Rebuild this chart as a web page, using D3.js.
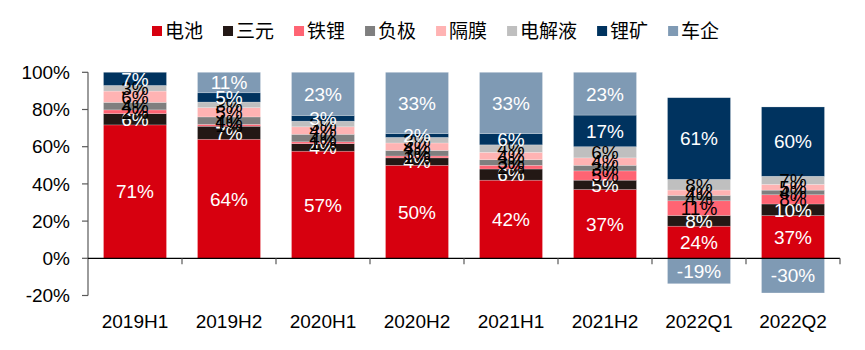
<!DOCTYPE html>
<html>
<head>
<meta charset="utf-8">
<script src="https://cdn.jsdelivr.net/npm/d3@7"></script>
<style>
  html, body { margin: 0; padding: 0; background: #fff; }
  svg { display: block; font-family: "Liberation Sans", Arial, "Noto Sans CJK SC", sans-serif; }
</style>
</head>
<body>
<svg id="chart" width="865" height="350"></svg>
<script>
// ---- data ----
const categories = ["2019H1","2019H2","2020H1","2020H2","2021H1","2021H2","2022Q1","2022Q2"];
const seriesNames = ["电池","三元","铁锂","负极","隔膜","电解液","锂矿","车企"];
const battery     = [71, 64, 57, 50, 42, 37, 24, 37];
const ternary     = [ 6,  7,  4,  4,  6,  5,  8, 10];
const lfp         = [ 2,  1,  1,  1,  2,  5, 11,  8];
const anode       = [ 4,  4,  4,  3,  3,  3,  4,  4];
const separator   = [ 6,  5,  4,  4,  4,  4,  4,  5];
const electrolyte = [ 3,  3,  3,  3,  4,  6,  8,  7];
const lithiumMine = [ 7,  5,  3,  2,  6, 17, 61, 60];
const automaker   = [ 0, 11, 23, 33, 33, 23,-19,-30];
const yTickLabels = ["-20%","0%","20%","40%","60%","80%","100%"];

const seriesValues = [battery, ternary, lfp, anode, separator, electrolyte, lithiumMine, automaker];
const colors = ["#D7000F","#231815","#FF6473","#7F7F7F","#FFB3B3","#BFBFBF","#00335F","#7F9AB4"];
const labelColors = ["#fff","#fff","#000","#000","#000","#000","#fff","#fff"];

// ---- layout ----
const svg = d3.select("#chart");
const left = 88, right = 840, yTop = 72.3, yBottom = 295.5;

const x = d3.scaleBand().domain(categories).range([left, right])
  .paddingInner(0.33).paddingOuter(0.165);
const y = d3.scaleLinear().domain([-0.2, 1.0]).range([yBottom, yTop]);

// table normalized by sum of absolute shares per period
const table = categories.map((c, i) => {
  const row = { cat: c };
  const tot = d3.sum(seriesValues, s => Math.abs(s[i]));
  seriesNames.forEach((n, k) => { row[n] = seriesValues[k][i] / tot; row["_" + n] = seriesValues[k][i]; });
  return row;
});

const stack = d3.stack().keys(seriesNames).offset(d3.stackOffsetDiverging);
const layers = stack(table);

// bars
const g = svg.append("g");
layers.forEach((layer, k) => {
  g.selectAll(null).data(layer).enter().append("rect")
    .attr("x", d => x(d.data.cat))
    .attr("width", x.bandwidth())
    .attr("y", d => y(Math.max(d[0], d[1])))
    .attr("height", d => Math.abs(y(d[0]) - y(d[1])))
    .attr("fill", colors[k])
    .attr("stroke", "rgba(255,255,255,0.35)")
    .attr("stroke-width", 0.6);
});

// axes
const axisColor = "#595959";
// y axis
svg.append("line").attr("x1", left).attr("x2", left).attr("y1", y(1.0)).attr("y2", y(-0.2))
  .attr("stroke", axisColor).attr("stroke-width", 1.2);
const yTicks = [-0.2, 0, 0.2, 0.4, 0.6, 0.8, 1.0];
yTicks.forEach((t, i) => {
  svg.append("line").attr("x1", left - 6).attr("x2", left).attr("y1", y(t)).attr("y2", y(t))
    .attr("stroke", axisColor).attr("stroke-width", 1.2);
  svg.append("text").attr("x", left - 18).attr("y", y(t)).attr("dy", "0.35em")
    .attr("text-anchor", "end").attr("font-size", 19).attr("fill", "#000")
    .text(yTickLabels[i]);
});
// x axis at zero
svg.append("line").attr("x1", left).attr("x2", right).attr("y1", y(0)).attr("y2", y(0))
  .attr("stroke", "#000").attr("stroke-width", 1.2);
categories.forEach(c => {
  const bx = x(c) + x.bandwidth() / 2 + x.step() / 2;
  svg.append("line").attr("x1", bx).attr("x2", bx).attr("y1", y(0)).attr("y2", y(0) + 6)
    .attr("stroke", axisColor).attr("stroke-width", 1.2);
  svg.append("text").attr("x", x(c) + x.bandwidth() / 2).attr("y", 321).attr("dy", "0.35em")
    .attr("text-anchor", "middle").attr("font-size", 19).attr("fill", "#000")
    .text(c);
});

// data labels
layers.forEach((layer, k) => {
  layer.forEach(d => {
    const v = d.data["_" + seriesNames[k]];
    if (v === 0) return;
    const mid = (d[0] + d[1]) / 2;
    svg.append("text").attr("x", x(d.data.cat) + x.bandwidth() / 2).attr("y", y(mid)).attr("dy", "0.36em")
      .attr("text-anchor", "middle").attr("font-size", 19).attr("fill", labelColors[k])
      .text(v + "%");
  });
});

// legend
const legend = svg.append("g");
let lx = 152;
seriesNames.forEach((n, k) => {
  legend.append("rect").attr("x", lx).attr("y", 26).attr("width", 10).attr("height", 10).attr("fill", colors[k]);
  const t = legend.append("text").attr("x", lx + 13).attr("y", 31).attr("dy", "0.36em")
    .attr("font-family", "'Noto Sans CJK SC', sans-serif").attr("font-size", 19).attr("fill", "#000").text(n);
  lx += 13 + t.node().getComputedTextLength() + 20;
});
</script>
</body>
</html>
